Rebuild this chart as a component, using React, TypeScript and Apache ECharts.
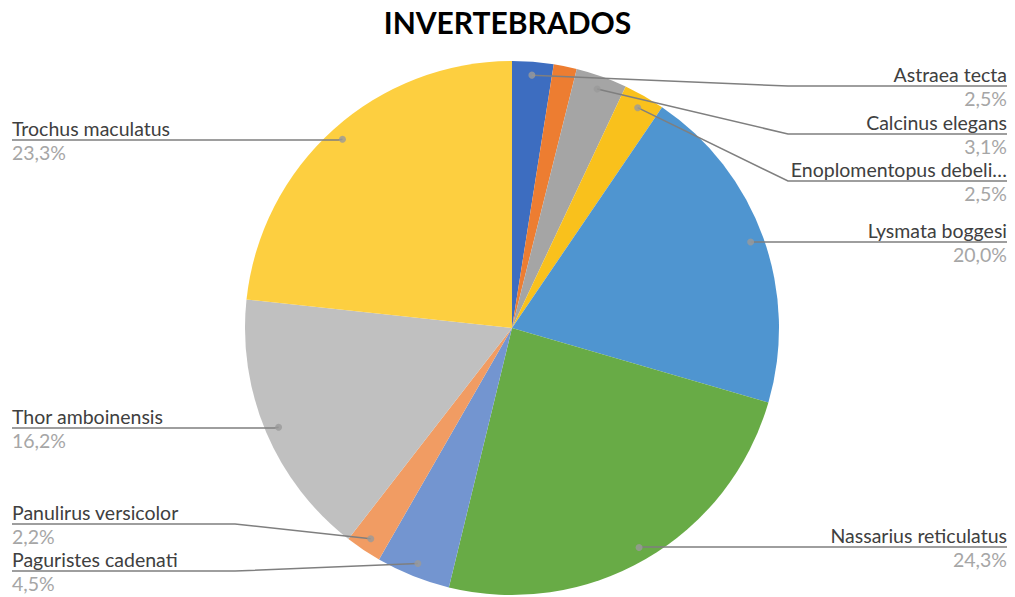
import React, { useEffect, useRef } from "react";
import * as echarts from "echarts";

const categories = [
  "Astraea tecta",
  "Otros",
  "Calcinus elegans",
  "Enoplomentopus debeli…",
  "Lysmata boggesi",
  "Nassarius reticulatus",
  "Paguristes cadenati",
  "Panulirus versicolor",
  "Thor amboinensis",
  "Trochus maculatus",
];
const values = [2.5, 1.4, 3.1, 2.5, 20.0, 24.3, 4.5, 2.2, 16.2, 23.3];
const colors = [
  "#3D6DC0", "#ED7D31", "#A5A5A5", "#F9C11C", "#4F95D0",
  "#68AB46", "#7395D0", "#F19C63", "#C0C0C0", "#FDCF40",
];
const showLabel = [true, false, true, true, true, true, true, true, true, true];

// layout (not data)
const CX = 512;
const CY = 328;
const R = 267;
const DOT_R = 0.95;
const lineY = [86, 0, 134, 181, 242, 547, 571, 524, 428, 140];
const rightSide = [true, true, true, true, true, true, false, false, false, false];
const straight = [false, false, false, false, true, true, false, false, true, true];
const RIGHT_X = 1007;
const LEFT_X = 12;
const BEND_RIGHT = 788;
const BEND_LEFT = 235;

const fmt = (v: number) => v.toFixed(1).replace(".", ",");

export default function App() {
  const ref = useRef<HTMLDivElement>(null);
  useEffect(() => {
    if (!ref.current) return;
    const chart = echarts.init(ref.current, null, { renderer: "svg" });
    const total = values.reduce((a, b) => a + b, 0);
    const mids: number[] = [];
    let acc = 0;
    values.forEach((v) => {
      mids.push(acc + v / 2);
      acc += v;
    });
    const dotPos = (i: number) => {
      const a = (mids[i] / total) * Math.PI * 2;
      return [CX + Math.sin(a) * R * DOT_R, CY - Math.cos(a) * R * DOT_R];
    };
    const font = "Lato, 'Open Sans', sans-serif";
    const pieBase = {
      type: "pie",
      center: [CX, CY],
      radius: R,
      startAngle: 90,
      clockwise: true,
      avoidLabelOverlap: false,
    };
    chart.setOption({
      animation: false,
      backgroundColor: "#ffffff",
      title: {
        text: "INVERTEBRADOS",
        left: "center",
        top: 2,
        textStyle: { fontSize: 30, fontWeight: "bold", fontFamily: font, color: "#000" },
      },
      polar: { center: [CX, CY], radius: R },
      angleAxis: {
        type: "value", min: 0, max: total, startAngle: 90, clockwise: true, show: false,
      },
      radiusAxis: { type: "value", min: 0, max: 1, show: false },
      series: [
        {
          ...pieBase,
          z: 2,
          itemStyle: { borderWidth: 0 },
          label: { show: false },
          labelLine: { show: false },
          data: categories.map((name, i) => ({
            name,
            value: values[i],
            itemStyle: { color: colors[i] },
          })),
        },
        {
          ...pieBase,
          z: 4,
          silent: true,
          itemStyle: { color: "rgba(0,0,0,0)", borderWidth: 0 },
          data: categories.map((name, i) => ({
            name,
            value: values[i],
            label: { show: showLabel[i] },
            labelLine: { show: showLabel[i] },
          })),
          label: {
            position: "outside",
            formatter: (p: any) => `{n|${p.name}}\n{p|${fmt(p.value)}%}`,
            rich: {
              n: { fontSize: 19.5, color: "#404040", fontFamily: font, lineHeight: 24 },
              p: { fontSize: 19.5, color: "#A6A6A6", fontFamily: font, lineHeight: 24 },
            },
          },
          labelLine: {
            show: true,
            length: 10,
            length2: 10,
            lineStyle: { color: "#7F7F7F", width: 1.5 },
          },
          labelLayout: (params: any) => {
            const i = params.dataIndex;
            if (!showLabel[i]) return {};
            const right = rightSide[i];
            const y = lineY[i];
            const x = right ? RIGHT_X : LEFT_X;
            const dot = dotPos(i);
            const bend = straight[i]
              ? [dot[0] + (right ? 4 : -4), y]
              : [right ? BEND_RIGHT : BEND_LEFT, y];
            return {
              x,
              y,
              align: right ? "right" : "left",
              verticalAlign: "middle",
              labelLinePoints: [dot, bend, [x, y]],
            };
          },
        },
        {
          type: "scatter",
          coordinateSystem: "polar",
          z: 6,
          symbol: "circle",
          symbolSize: 7,
          itemStyle: { color: "#9A9A9A" },
          silent: true,
          data: mids
            .map((m, i) => (showLabel[i] ? [DOT_R, m] : null))
            .filter((d) => d !== null),
        },
      ],
    });
    return () => chart.dispose();
  }, []);
  return (
    <div
      ref={ref}
      style={{ position: "fixed", left: 0, top: 0, width: 1015, height: 597 }}
    />
  );
}
